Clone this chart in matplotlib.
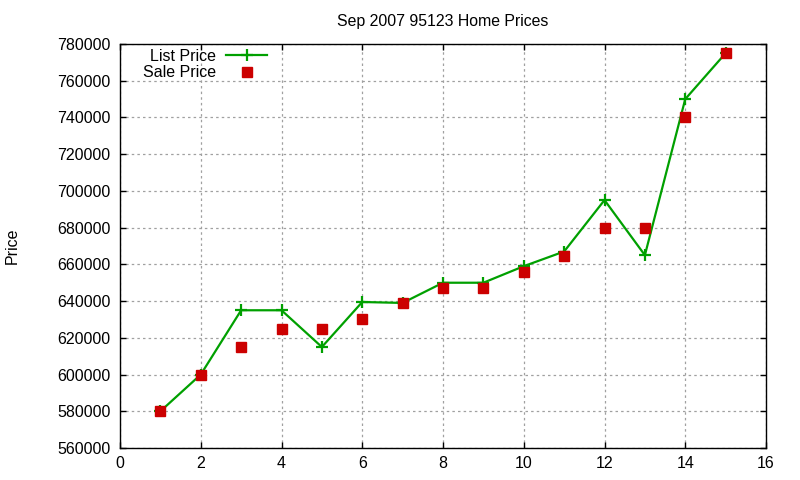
import numpy as np
import matplotlib
matplotlib.use('Agg')
import matplotlib.pyplot as plt
from matplotlib.ticker import MultipleLocator

# --- Data
month = [1, 2, 3, 4, 5, 6, 7, 8, 9, 10, 11, 12, 13, 14, 15]
list_price = [580000, 600000, 635000, 635000, 615000, 639500, 639000, 650000,
              650000, 659000, 667000, 695000, 665000, 750000, 775000]
sale_price = [580000, 600000, 615000, 625000, 625000, 630000, 639000, 647000,
              647000, 656000, 664500, 680000, 680000, 740000, 775000]

plt.rcParams['font.family'] = ['Liberation Sans', 'DejaVu Sans']
plt.rcParams['font.size'] = 11.5

fig = plt.figure(figsize=(8, 4.8), dpi=100)
ax = fig.add_axes([120 / 800, 1 - 448 / 480, 646 / 800, 404 / 480])

ax.plot(month, list_price, color='#00a000', linewidth=1.6, marker='+',
        markersize=9, markeredgewidth=1.6, label='List Price')
ax.plot(month, sale_price, linestyle='none', color='#cc0000', marker='s',
        markersize=6.5, label='Sale Price')

ax.set_xlim(0, 16)
ax.set_ylim(560000, 780000)
ax.xaxis.set_major_locator(MultipleLocator(2))
ax.yaxis.set_major_locator(MultipleLocator(20000))
ax.tick_params(direction='in', length=4.5, width=1, top=True, right=True)
ax.tick_params(axis='y', pad=7)
ax.tick_params(axis='x', pad=6)
for s in ax.spines.values():
    s.set_linewidth(1)

ax.grid(True, color='#a0a0a0', linestyle=(0, (2, 2.5)), linewidth=0.9)
ax.set_axisbelow(True)

ax.set_title('Sep 2007 95123 Home Prices', fontsize=11.4, pad=13)
ax.set_ylabel('Price')
ax.yaxis.set_label_coords(-0.155, 0.5)

ax.legend(loc='upper right', bbox_to_anchor=(0.228, 0.988), markerfirst=False,
          frameon=False, borderaxespad=0, borderpad=0, labelspacing=0.1,
          handlelength=2.6, handletextpad=0.6)

plt.savefig('out.png', dpi=100)
